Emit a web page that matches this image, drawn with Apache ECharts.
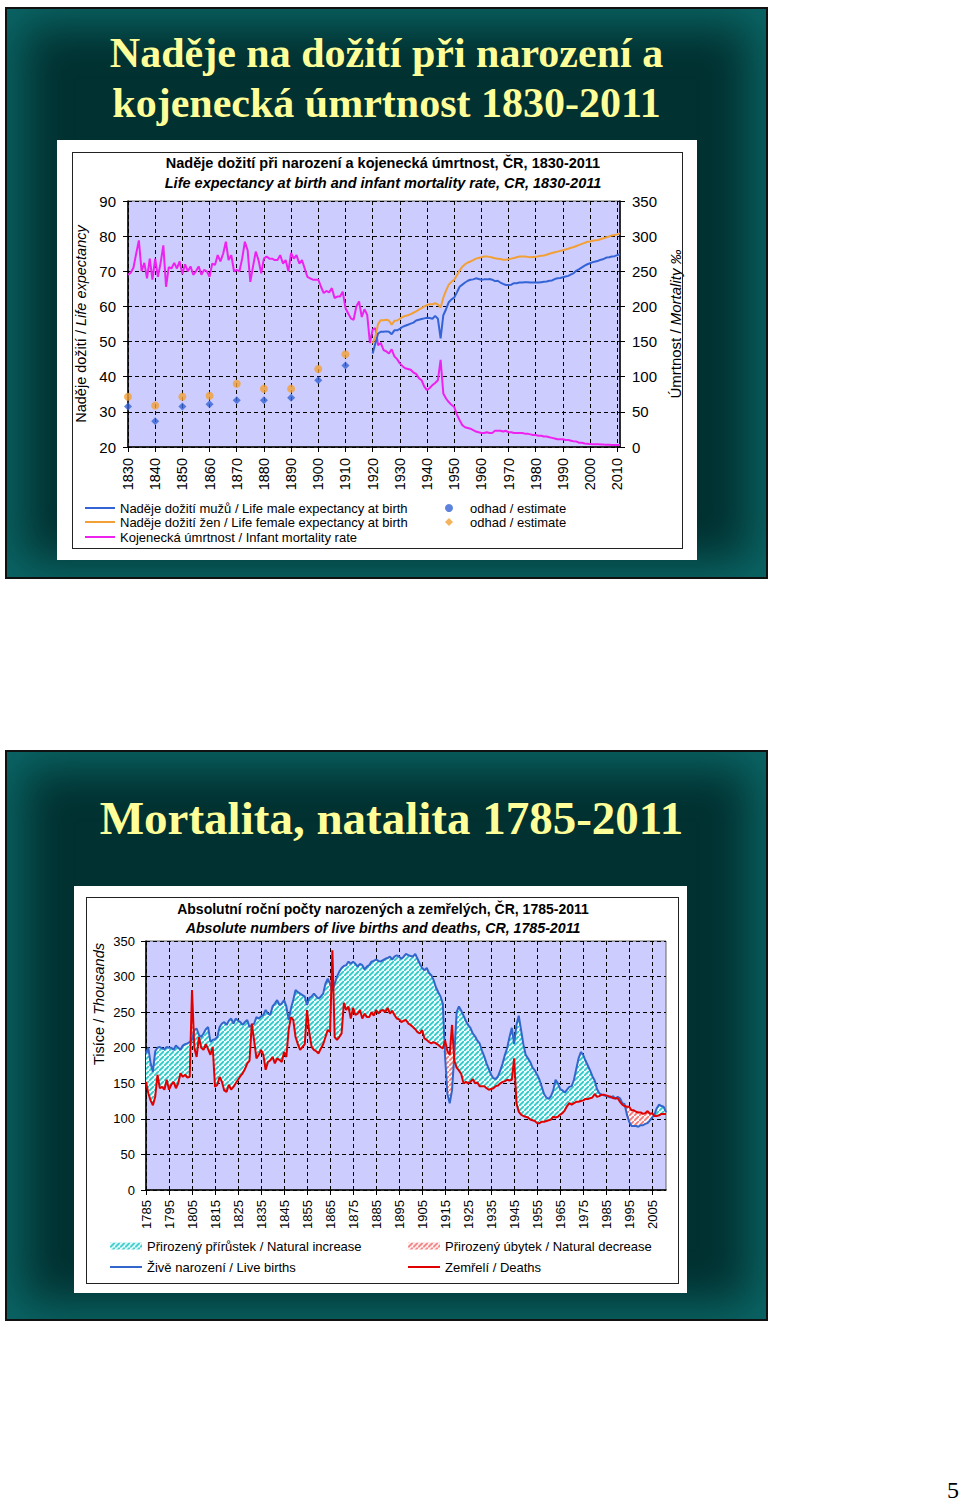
<!DOCTYPE html>
<html><head><meta charset="utf-8">
<script src="https://cdn.jsdelivr.net/npm/echarts@6/dist/echarts.min.js"></script>
<style>
html,body{margin:0;padding:0;background:#fff;width:960px;height:1505px;overflow:hidden;font-family:'Liberation Sans',Arial,sans-serif;}
.slide{position:absolute;box-sizing:border-box;border:2px solid #111;background:#023131;box-shadow:inset 0 0 45px 16px #0b6666;}
.stitle{position:absolute;left:0;right:0;text-align:center;color:#FFFF99;font-family:'Liberation Serif','Times New Roman',serif;font-weight:bold;white-space:nowrap;}
.panel{position:absolute;background:#fff;}
.frame{position:absolute;border:1px solid #222;box-sizing:border-box;pointer-events:none;}
.chart{position:absolute;}
</style></head><body>
<div class="slide" style="left:5px;top:7px;width:763px;height:572px;">
  <div class="stitle" style="top:19px;font-size:42px;line-height:50px;">Naděje na dožití při narození a<br>kojenecká úmrtnost 1830-2011</div>
</div>
<div class="slide" style="left:5px;top:750px;width:763px;height:571px;">
  <div class="stitle" style="top:40px;left:10px;font-size:47px;line-height:53px;">Mortalita, natalita 1785-2011</div>
</div>
<div class="panel" style="left:57px;top:140px;width:640px;height:420px;"></div>
<div class="chart" id="c1" style="left:57px;top:140px;width:640px;height:420px;"></div>
<div class="frame" style="left:72px;top:152px;width:611px;height:397px;"></div>
<div class="panel" style="left:74px;top:886px;width:613px;height:407px;"></div>
<div class="chart" id="c2" style="left:74px;top:886px;width:613px;height:407px;"></div>
<div class="frame" style="left:86px;top:897px;width:593px;height:387px;"></div>
<div style="position:absolute;left:947px;top:1477px;font-family:'Liberation Serif','Times New Roman',serif;font-size:24px;color:#000;">5</div>
<script>
// ---------- Chart 1 data ----------
const years1Start = 1830, years1End = 2011;
const infantMortality = [
 245,248,255,275,294,250,262,240,268,238,
 268,242,262,287,228,256,254,262,254,264,
 246,260,250,257,245,250,257,245,252,250,
 242,261,259,273,264,275,292,266,273,250,
 252,250,268,292,280,235,257,278,266,247,
 268,271,268,268,266,266,273,261,266,250,
 276,268,273,261,266,254,242,240,238,238,
 238,228,219,222,220,226,212,214,214,221,
 198,190,183,181,200,207,185,196,188,148,
 167,169,145,148,138,136,133,139,129,125,
 119,115,112,111,110,106,104,98,95,86,
 81,84,88,91,95,124,76,69,64,60,
 57,46,38,31,28,27,26,24,22,21,
 20,20,21,20,20,23,23,23,22,23,
 21,21,20,20,20,20,19,19,18,17,
 17,16,16,15,15,14,13,12,11,11,
 11,10,10,9,8,7.7,6,6,5,4.6,
 4.1,4,4,3.9,3.7,3.4,3.3,3.1,2.8,2.9,
 2.7,2.7];
const leStart = 1920;
const maleLE = [
 46.6,49.5,52.3,52.8,52.8,52.9,52.8,52.1,53.2,53.2,
 53.6,54.2,54.5,54.8,55.1,55.4,56.0,56.2,56.4,56.6,
 56.8,56.7,56.5,57.3,56.5,50.9,57.5,59.2,61.2,62.0,
 62.5,64.0,65.6,66.2,66.8,67.3,67.6,67.7,68.0,67.8,
 67.6,67.7,67.7,67.8,67.6,67.2,67.3,66.8,66.4,66.1,
 66.1,66.2,66.6,66.6,66.8,66.8,66.9,66.9,66.8,66.8,
 66.8,66.8,66.9,67.0,67.1,67.3,67.4,67.8,68.0,68.1,
 68.3,68.5,68.7,69.1,69.5,70.2,70.6,71.1,71.6,72.0,
 72.3,72.6,72.8,73.0,73.3,73.5,73.9,74.0,74.2,74.3,
 74.6,74.9];
const femaleLE = [
 49.5,51.4,55.0,56.1,56.1,56.2,56.0,54.8,55.9,56.0,
 56.5,57.0,57.3,57.5,57.8,58.2,58.6,59.1,59.5,60.0,
 60.4,60.6,60.6,60.9,60.6,59.7,62.5,64.5,66.2,67.0,
 67.6,68.9,70.2,71.3,72.0,72.5,72.8,73.2,73.6,73.8,
 74.0,74.2,74.2,74.1,73.9,73.7,73.6,73.5,73.3,73.3,
 73.4,73.6,73.8,74.0,74.2,74.2,74.2,74.1,74.0,74.1,
 74.1,74.3,74.4,74.5,74.7,75.0,75.2,75.4,75.6,75.8,
 76.0,76.2,76.4,76.7,76.9,77.2,77.5,77.8,78.1,78.4,
 78.5,78.7,78.8,78.9,79.2,79.4,79.7,79.9,80.2,80.3,
 80.5,80.8];
const estYears = [1830,1840,1850,1860,1870,1880,1890,1900,1910];
const estMale = [31.5,27.3,31.5,32.2,33.3,33.3,34.0,39.0,43.2];
const estFemale = [34.3,31.8,34.3,34.6,38.0,36.6,36.6,42.2,46.4];

// ---------- Chart 2 data ----------
const years2Start = 1785, years2End = 2011;
const births = [
 192,200,178,166,195,200,201,199,198,201,
 200,200,197,203,200,197,203,205,206,208,
 211,225,227,218,215,220,226,229,208,211,
 212,215,229,234,236,232,238,241,234,241,
 238,236,232,236,239,229,232,234,243,241,
 244,246,253,248,246,258,262,267,260,262,
 267,258,239,255,267,281,278,276,274,272,
 260,270,272,276,272,269,272,276,290,297,
 290,279,290,300,307,312,315,316,321,318,
 321,318,314,318,316,310,314,316,321,322,
 324,322,321,323,325,326,328,324,328,330,
 328,325,328,332,330,329,328,332,325,318,
 312,309,312,305,302,295,285,278,272,262,
 187,135,122,140,190,250,258,252,245,238,
 232,228,220,216,210,206,196,188,178,170,
 162,157,156,160,168,178,190,200,215,228,
 205,232,245,225,205,190,185,180,172,168,
 162,155,145,135,130,128,132,140,155,150,
 142,140,137,141,145,146,155,170,185,194,
 190,182,175,168,160,154,142,136,134,133,
 132,131,130,132,128,131,129,122,121,106,
 96,90,90,90,89,91,91,93,94,98,
 102,106,115,120,118,117,109];
const deaths = [
 152,136,126,119,131,162,143,145,141,155,
 141,148,152,143,150,164,159,162,158,159,
 281,200,187,215,200,197,205,198,190,201,
 145,148,159,152,140,138,148,141,145,150,
 155,160,164,170,178,182,234,210,185,190,
 197,190,169,180,182,187,178,185,183,180,
 194,187,225,243,239,215,205,197,201,205,
 253,220,201,197,195,192,199,205,215,225,
 222,337,215,211,215,220,263,253,258,241,
 256,246,248,253,241,248,243,243,250,245,
 253,248,252,253,250,256,248,252,246,241,
 240,236,238,239,234,232,229,226,222,220,
 225,213,211,208,206,208,206,204,201,199,
 210,195,190,232,182,172,168,163,150,152,
 150,152,156,150,151,146,146,146,143,141,
 142,143,146,147,150,152,153,155,154,155,
 185,122,110,106,104,103,102,99,98,97,
 94,94,96,96,97,98,99,103,102,103,
 106,108,112,118,122,120,122,124,124,125,
 126,128,128,129,130,135,131,132,134,134,
 133,132,131,129,129,129,124,120,118,117,
 117,112,112,110,109,109,107,108,111,107,
 108,104,104,105,107,107,107];

// ---------- helpers ----------
const F = "'Liberation Sans', Arial, sans-serif";
function yearsRange(a, b){ const r=[]; for(let y=a;y<=b;y++) r.push(String(y)); return r; }
function makePattern(stripe, bg){
  const s = 5;
  const c = document.createElement('canvas'); c.width = s; c.height = s;
  const g = c.getContext('2d');
  g.fillStyle = bg; g.fillRect(0,0,s,s);
  g.strokeStyle = stripe; g.lineWidth = 1.7;
  g.beginPath();
  g.moveTo(-1,s+1); g.lineTo(s+1,-1);
  g.moveTo(-s-1,1); g.lineTo(1,-s-1);
  g.moveTo(s-1,2*s+1); g.lineTo(2*s+1,s-1);
  g.stroke();
  return {image: c.toDataURL(), repeat:'repeat', imageWidth:s, imageHeight:s};
}
function tText(x, y, text, size, italic, rot){
  return {type:'text', x:x, y:y, rotation:rot||0, style:{text:text, fontSize:size, fontWeight:'bold', fontStyle: italic?'italic':'normal', fontFamily:F, fill:'#000',
    align:'center', verticalAlign:'middle', textAlign:'center', textVerticalAlign:'middle'}};
}
const legText = {fontSize:13, lineHeight:14, color:'#000', fontFamily:F};

// ---------- Chart 1 ----------
const cats1 = yearsRange(years1Start, years1End);
const BLUE1='#3463D6', ORANGE='#F2A035', MAGENTA='#EE22EE';
const c1 = echarts.init(document.getElementById('c1'), null, {renderer:'svg'});
function lineLegend(name, left, top){
  return {data:[{name:name, icon:'rect'}], left:left, top:top, padding:0, itemGap:0,
    itemWidth:30, itemHeight:2, selectedMode:false, textStyle:legText};
}
function dotLegend(name, icon, left, top){
  return {data:[{name:name, icon:icon}], formatter:function(){return 'odhad / estimate';}, left:left, top:top, padding:0, itemGap:0,
    itemWidth:8, itemHeight:8, symbolKeepAspect:true, selectedMode:false,
    textStyle:Object.assign({padding:[0,0,0,12]}, legText)};
}
c1.setOption({
  animation:false,
  graphic:[
    tText(326, 23, 'Naděje dožití při narození a kojenecká úmrtnost, ČR, 1830-2011', 14.5, false),
    tText(326, 43, 'Life expectancy at birth and infant mortality rate, CR, 1830-2011', 14.5, true)
  ],
  grid:{left:71, top:61, width:492, height:246, show:true, backgroundColor:'#CCCCFF', borderColor:'#666', borderWidth:1, outerBoundsMode:'none', containLabel:false},
  xAxis:{type:'category', data:cats1, boundaryGap:false,
    axisLine:{lineStyle:{color:'#000', width:1.5}},
    axisTick:{interval:9, length:5, lineStyle:{color:'#000'}},
    axisLabel:{interval:9, rotate:90, margin:11, fontSize:14.5, color:'#000', fontFamily:F},
    splitLine:{show:true, interval:9, lineStyle:{color:'#000', type:[4,3], width:1}}},
  yAxis:[
    {type:'value', min:20, max:90, interval:10, position:'left',
     name:'{a|Naděje dožití / }{b|Life expectancy}', nameLocation:'middle', nameGap:37, nameRotate:90,
     nameTextStyle:{rich:{a:{fontSize:14.5, fontFamily:F, color:'#000'}, b:{fontSize:14.5, fontFamily:F, fontStyle:'italic', color:'#000'}}},
     axisLine:{show:true, lineStyle:{color:'#000', width:1.5}},
     axisTick:{show:true, length:5, lineStyle:{color:'#000'}},
     axisLabel:{margin:12, fontSize:15, color:'#000', fontFamily:F},
     splitLine:{show:true, lineStyle:{color:'#000', type:[4,3], width:1}}},
    {type:'value', min:0, max:350, interval:50, position:'right',
     name:'{a|Úmrtnost / }{b|Mortality ‰}', nameLocation:'middle', nameGap:38, nameRotate:90,
     nameTextStyle:{rich:{a:{fontSize:15, fontFamily:F, color:'#000'}, b:{fontSize:15, fontFamily:F, fontStyle:'italic', color:'#000'}}},
     axisLine:{show:true, lineStyle:{color:'#000', width:1.5}},
     axisTick:{show:true, length:5, lineStyle:{color:'#000'}},
     axisLabel:{margin:12, fontSize:15, color:'#000', fontFamily:F},
     splitLine:{show:false}}
  ],
  legend:[
    lineLegend('Naděje dožití mužů / Life male expectancy at birth', 28, 361),
    lineLegend('Naděje dožití žen / Life female expectancy at birth', 28, 375),
    lineLegend('Kojenecká úmrtnost / Infant mortality rate', 28, 390),
    dotLegend('est_m', 'circle', 388, 361),
    dotLegend('est_f', 'diamond', 388, 375)
  ],
  series:[
    {name:'Kojenecká úmrtnost / Infant mortality rate', type:'line', yAxisIndex:1, symbol:'none', showSymbol:false,
     data:infantMortality.map(function(v,i){return [String(years1Start+i), v];}),
     lineStyle:{color:MAGENTA, width:2}, itemStyle:{color:MAGENTA}, emphasis:{disabled:true}},
    {name:'Naděje dožití mužů / Life male expectancy at birth', type:'line', yAxisIndex:0, symbol:'none', showSymbol:false,
     data:maleLE.map(function(v,i){return [String(leStart+i), v];}),
     lineStyle:{color:BLUE1, width:2}, itemStyle:{color:BLUE1}, emphasis:{disabled:true}},
    {name:'Naděje dožití žen / Life female expectancy at birth', type:'line', yAxisIndex:0, symbol:'none', showSymbol:false,
     data:femaleLE.map(function(v,i){return [String(leStart+i), v];}),
     lineStyle:{color:ORANGE, width:2}, itemStyle:{color:ORANGE}, emphasis:{disabled:true}},
    {name:'est_m', type:'scatter', yAxisIndex:0, symbol:'diamond', symbolSize:8,
     data:estYears.map(function(y,i){return [String(y), estMale[i]];}), itemStyle:{color:BLUE1}},
    {name:'est_f', type:'scatter', yAxisIndex:0, symbol:'circle', symbolSize:8,
     data:estYears.map(function(y,i){return [String(y), estFemale[i]];}), itemStyle:{color:ORANGE}}
  ]
});

// ---------- Chart 2 ----------
const cats2 = yearsRange(years2Start, years2End);
const BLUE2='#3366CC', RED='#E00000';
const cyanPat = makePattern('#2CC8C8', '#E8FCFC');
const pinkPat = makePattern('#F07878', '#FFF4F4');
const lowPart = births.map(function(b,i){return Math.min(b, deaths[i]);});
const incPart = births.map(function(b,i){return Math.max(b - deaths[i], 0);});
const decPart = births.map(function(b,i){return Math.max(deaths[i] - b, 0);});
const c2 = echarts.init(document.getElementById('c2'), null, {renderer:'svg'});
function leg2(name, left, top, icon, h, color){
  return {data:[{name:name, icon:icon, itemStyle:{color:color}}], left:left, top:top, padding:0, itemGap:0,
    itemWidth:32, itemHeight:h, selectedMode:false, textStyle:legText};
}
const hidden = {symbol:'none', showSymbol:false, lineStyle:{opacity:0, width:0}, silent:true, emphasis:{disabled:true}};
c2.setOption({
  animation:false,
  graphic:[
    tText(309, 23, 'Absolutní roční počty narozených a zemřelých, ČR, 1785-2011', 14, false),
    tText(309, 42, 'Absolute numbers of live births and deaths, CR, 1785-2011', 14.2, true),
    {type:'text', x:25, y:118, rotation:Math.PI/2, style:{text:'{a|Tisíce / }{b|Thousands}', fill:'#000',
      align:'center', verticalAlign:'middle', textAlign:'center', textVerticalAlign:'middle',
      rich:{a:{fontSize:14.5, fontFamily:F, fill:'#000', color:'#000'}, b:{fontSize:14.5, fontFamily:F, fontStyle:'italic', fill:'#000', color:'#000'}}}}
  ],
  grid:{left:72, top:55, width:520, height:249, show:true, backgroundColor:'#CCCCFF', borderColor:'#666', borderWidth:1, outerBoundsMode:'none', containLabel:false},
  xAxis:{type:'category', data:cats2, boundaryGap:false,
    axisLine:{lineStyle:{color:'#000', width:1.5}},
    axisTick:{interval:9, length:5, lineStyle:{color:'#000'}},
    axisLabel:{interval:9, rotate:90, margin:10, fontSize:13, color:'#000', fontFamily:F},
    splitLine:{show:true, interval:9, lineStyle:{color:'#000', type:[4,3], width:1}}},
  yAxis:{type:'value', min:0, max:350, interval:50,
    axisLine:{show:true, lineStyle:{color:'#000', width:1.5}},
    axisTick:{show:true, length:5, lineStyle:{color:'#000'}},
    axisLabel:{margin:11, fontSize:13, color:'#000', fontFamily:F},
    splitLine:{show:true, lineStyle:{color:'#000', type:[4,3], width:1}}},
  legend:[
    leg2('Přirozený přírůstek / Natural increase', 36, 353, 'rect', 7, cyanPat),
    leg2('Přirozený úbytek / Natural decrease', 334, 353, 'rect', 7, pinkPat),
    leg2('Živě narození / Live births', 36, 374, 'rect', 2, BLUE2),
    leg2('Zemřelí / Deaths', 334, 374, 'rect', 2, RED)
  ],
  series:[
    Object.assign({name:'_baseInc', type:'line', stack:'inc', data:lowPart}, hidden),
    Object.assign({name:'Přirozený přírůstek / Natural increase', type:'line', stack:'inc', data:incPart,
      areaStyle:{color:cyanPat, opacity:1}, itemStyle:{color:'#2CC8C8'}}, hidden),
    Object.assign({name:'_baseDec', type:'line', stack:'dec', data:lowPart}, hidden),
    Object.assign({name:'Přirozený úbytek / Natural decrease', type:'line', stack:'dec', data:decPart,
      areaStyle:{color:pinkPat, opacity:1}, itemStyle:{color:'#F07878'}}, hidden),
    {name:'Živě narození / Live births', type:'line', data:births, symbol:'none', showSymbol:false,
      lineStyle:{color:BLUE2, width:2}, itemStyle:{color:BLUE2}, emphasis:{disabled:true}},
    {name:'Zemřelí / Deaths', type:'line', data:deaths, symbol:'none', showSymbol:false,
      lineStyle:{color:RED, width:2}, itemStyle:{color:RED}, emphasis:{disabled:true}}
  ]
});
</script>
</body></html>
